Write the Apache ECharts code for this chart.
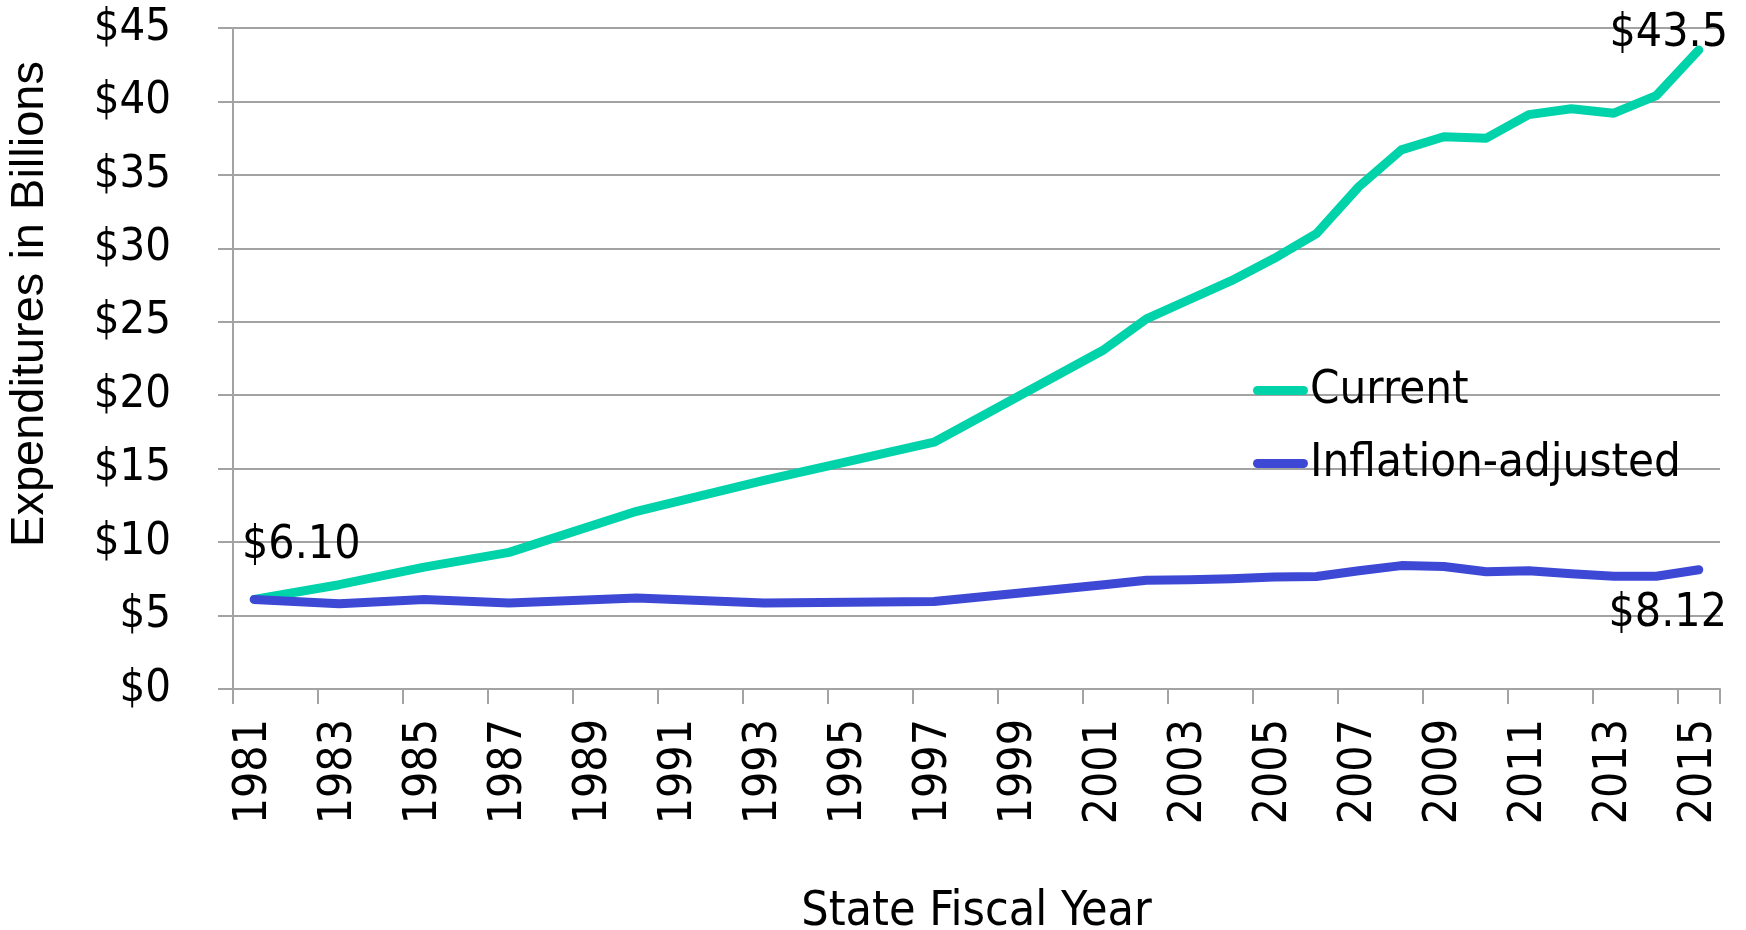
<!DOCTYPE html>
<html>
<head>
<meta charset="utf-8">
<script src="https://cdn.jsdelivr.net/npm/echarts@6/dist/echarts.min.js"></script>
<style>
html,body{margin:0;padding:0;background:#fff;}
#c{width:1746px;height:930px;}
</style>
</head>
<body>
<div id="c"></div>
<script>
var years = ['1981','1982','1983','1984','1985','1986','1987','1988','1989','1990',
             '1991','1992','1993','1994','1995','1996','1997','1998','1999','2000',
             '2001','2002','2003','2004','2005','2006','2007','2008','2009','2010',
             '2011','2012','2013','2014','2015'];
var currentValues = [6.10, null, 7.1, null, 8.3, null, 9.3, null, null, 12.1,
                     null, null, 14.2, null, null, null, 16.8, null, null, null,
                     23.1, 25.2, 26.5, 27.8, 29.3, 31.0, 34.2, 36.7, 37.6, 37.5,
                     39.1, 39.5, 39.2, 40.4, 43.5];
var inflationValues = [6.10, null, 5.8, null, 6.1, null, 5.85, null, null, 6.2,
                       null, null, 5.85, null, null, null, 5.95, null, null, null,
                       7.1, 7.4, 7.43, 7.5, 7.62, 7.66, 8.05, 8.4, 8.34, 7.98,
                       8.05, 7.85, 7.68, 7.68, 8.12];
var yTicks = [0, 5, 10, 15, 20, 25, 30, 35, 40, 45];
var seriesNames = ['Current', 'Inflation-adjusted'];
var labelTexts = {current: {0: '$6.10', 34: '$43.5'}, inflation: {34: '$8.12'}};

var FONT = "'DejaVu Sans Condensed', 'DejaVu Sans', sans-serif";
var GREEN = '#00d3aa', BLUE = '#3d49d5', GRID = '#a3a3a3';

var labelStyles = {
  current: {
    0: {position: 'top', offset: [47, -25]},
    34: {position: 'top', offset: [-30, 13]}
  },
  inflation: {
    34: {position: 'bottom', offset: [-31, 16]}
  }
};

function buildData(vals, key) {
  return vals.map(function (v, i) {
    if (labelTexts[key][i] !== undefined) {
      var st = labelStyles[key][i];
      return {
        value: v,
        label: {
          show: true,
          position: st.position,
          distance: 5,
          offset: st.offset,
          formatter: labelTexts[key][i],
          fontFamily: FONT,
          fontSize: 46,
          lineHeight: 46,
          color: '#000'
        }
      };
    }
    return v;
  });
}

var chart = echarts.init(document.getElementById('c'), null, {renderer: 'canvas'});
chart.setOption({
  animation: false,
  backgroundColor: '#fff',
  grid: {left: 233, right: 26, top: 28, bottom: 241, containLabel: false, outerBoundsMode: 'none'},
  legend: {
    orient: 'vertical',
    left: 1253,
    top: 367,
    padding: 0,
    itemWidth: 55,
    itemHeight: 9,
    itemGap: 26,
    icon: 'path://M4.5,0 L50.5,0 A4.5,4.5 0 0 1 50.5,9 L4.5,9 A4.5,4.5 0 0 1 4.5,0 Z',
    data: seriesNames,
    itemStyle: {opacity: 1},
    textStyle: {fontFamily: FONT, fontSize: 47, lineHeight: 47, color: '#000', padding: [0, 0, 0, -3]}
  },
  xAxis: {
    type: 'category',
    data: years,
    boundaryGap: true,
    name: 'State Fiscal Year',
    nameLocation: 'middle',
    nameGap: 200,
    nameTextStyle: {fontFamily: FONT, fontSize: 48, color: '#000'},
    axisLine: {show: true, lineStyle: {color: GRID, width: 2}},
    axisTick: {show: true, interval: 1, length: 15, lineStyle: {color: GRID, width: 2}},
    axisLabel: {interval: 1, rotate: 90, margin: 30, fontFamily: FONT, fontSize: 46, color: '#000'},
    splitLine: {show: false}
  },
  yAxis: {
    type: 'value',
    min: yTicks[0],
    max: yTicks[yTicks.length - 1],
    interval: yTicks[1] - yTicks[0],
    name: 'Expenditures in Billions',
    nameLocation: 'middle',
    nameGap: 179,
    nameTextStyle: {fontFamily: "'Liberation Sans', Arial, sans-serif", fontSize: 47, color: '#000', padding: [0, 0, 0, 109]},
    axisLine: {show: true, lineStyle: {color: GRID, width: 2}},
    axisTick: {show: true, length: 15, lineStyle: {color: GRID, width: 2}},
    axisLabel: {
      margin: 62,
      fontFamily: FONT,
      fontSize: 45,
      color: '#000',
      padding: [24, 0, 0, 0],
      formatter: function (v) { return '$' + v; }
    },
    splitLine: {show: true, lineStyle: {color: GRID, width: 2}}
  },
  series: [
    {
      name: seriesNames[0],
      type: 'line',
      data: buildData(currentValues, 'current'),
      connectNulls: true,
      showSymbol: true,
      showAllSymbol: true,
      symbol: 'circle',
      symbolSize: 1,
      color: GREEN,
      itemStyle: {color: GREEN},
      lineStyle: {color: GREEN, width: 9, cap: 'round', join: 'round'},
      z: 3
    },
    {
      name: seriesNames[1],
      type: 'line',
      data: buildData(inflationValues, 'inflation'),
      connectNulls: true,
      showSymbol: true,
      showAllSymbol: true,
      symbol: 'circle',
      symbolSize: 1,
      color: BLUE,
      itemStyle: {color: BLUE},
      lineStyle: {color: BLUE, width: 9, cap: 'round', join: 'round'},
      z: 4
    }
  ]
});
</script>
</body>
</html>
